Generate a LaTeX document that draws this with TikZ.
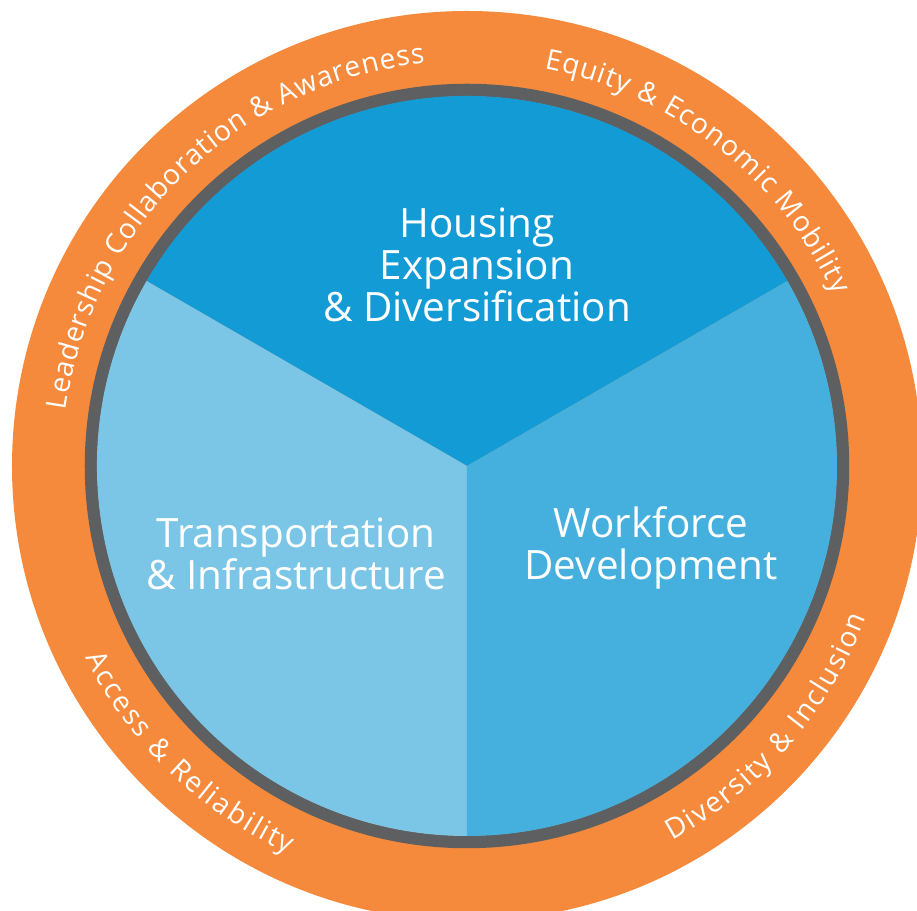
\documentclass[tikz,border=0pt]{standalone}
\usepackage{fontspec}
\setmainfont{Open Sans}
\usetikzlibrary{decorations.text}

\definecolor{ringorange}{HTML}{F58A3D}
\definecolor{ringgrey}{HTML}{5E5F61}
\definecolor{housingblue}{HTML}{139BD6}
\definecolor{transportblue}{HTML}{7BC6E7}
\definecolor{workforceblue}{HTML}{45B0DE}
\newcommand{\ringfont}{\fontsize{16}{16}\selectfont}

\begin{document}
\begin{tikzpicture}[x=0.02cm, y=0.02cm,
    pillar/.style={text=white, align=center, inner sep=0pt,
        font=\fontsize{23}{24}\selectfont},
    ringtext/.style 2 args={decorate, decoration={text effects along path,
        text={#2}, text align=center, text effects/.cd, text along path,
        characters={text=white, font=\ringfont, inner xsep=#1}}}
]
    \useasboundingbox (-467,-445) rectangle (450,466);
    \clip (-467,-445) rectangle (450,466);
    % rings
    \fill[ringorange] (0,0) circle[radius=455];
    \draw[ringgrey, line width=0.25cm] (0,0) circle[radius=376];
    % sectors
    \fill[housingblue] (0,0) -- (30:370) arc[start angle=30, end angle=150, radius=370] -- cycle;
    \fill[transportblue] (0,0) -- (150:370) arc[start angle=150, end angle=270, radius=370] -- cycle;
    \fill[workforceblue] (0,0) -- (270:370) arc[start angle=270, end angle=390, radius=370] -- cycle;
    \node[pillar] (housing) at (10,201) {Housing\\Expansion\\\& Diversification};
    \node[pillar] (transport) at (-171,-88) {Transportation\\\& Infrastructure};
    \node[pillar] (workforce) at (184,-82) {Workforce\\Development};
    % ring labels
    \path[ringtext={0.25pt}{Leadership Collaboration {\&} Awareness}]
        (204:405) arc[start angle=204, end angle=64, radius=405];
    \path[ringtext={0.3pt}{Equity {\&} Economic Mobility}]
        (112:405) arc[start angle=112, end angle=-8, radius=405];
    \path[ringtext={0.6pt}{Access {\&} Reliability}]
        (176:427) arc[start angle=176, end angle=276, radius=427];
    \path[ringtext={0.5pt}{Diversity {\&} Inclusion}]
        (269:427) arc[start angle=269, end angle=369, radius=427];
\end{tikzpicture}
\end{document}
